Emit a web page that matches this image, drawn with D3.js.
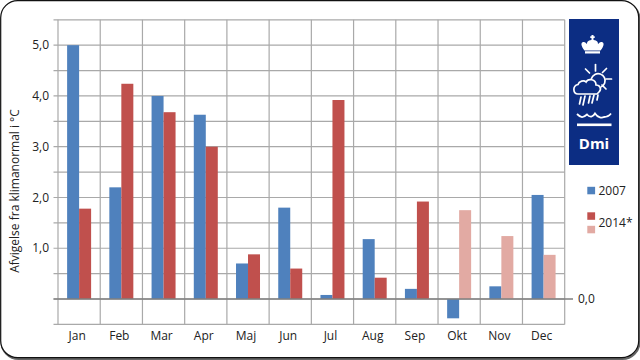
<!DOCTYPE html>
<html>
<head>
<meta charset="utf-8">
<script src="https://cdn.jsdelivr.net/npm/d3@7"></script>
<style>
  body { margin: 0; background: #fff; }
  text { font-family: "Open Sans", "Noto Sans", sans-serif; fill: #222; }
</style>
</head>
<body>
<div id="canvas"></div>
<script>
const months = ["Jan", "Feb", "Mar", "Apr", "Maj", "Jun", "Jul", "Aug", "Sep", "Okt", "Nov", "Dec"];
const values2007 = [5.0, 2.2, 4.0, 3.63, 0.7, 1.8, 0.08, 1.18, 0.2, -0.38, 0.25, 2.05];
const values2014 = [1.78, 4.24, 3.68, 3.0, 0.88, 0.6, 3.92, 0.42, 1.92, 1.75, 1.24, 0.87];
const provisional2014 = ["Okt", "Nov", "Dec"];
const gridTicks = [-0.5, 0, 0.5, 1, 1.5, 2, 2.5, 3, 3.5, 4, 4.5, 5, 5.5];
const labelTicks = [1, 2, 3, 4, 5];

const svg = d3.select("#canvas").append("svg")
    .attr("width", 640)
    .attr("height", 360)
    .style("display", "block");

const x = d3.scaleBand().domain(months).range([58, 564.7]);
const sub = d3.scaleBand().domain(["2007", "2014"]).range([0, x.bandwidth()]).paddingInner(0).paddingOuter(0.76);
const y = d3.scaleLinear().domain([-0.5, 5.5]).range([324.4, 19.8]);

const fmt = d => d.toFixed(1).replace(".", ",");

// Frame with rounded corners
svg.append("rect")
    .attr("x", 1.5).attr("y", 2).attr("width", 638).attr("height", 357)
    .attr("rx", 17)
    .attr("fill", "none").attr("stroke", "#666").attr("stroke-width", 2);
svg.append("rect")
    .attr("x", 0.7).attr("y", 0.7).attr("width", 638).attr("height", 357)
    .attr("rx", 17)
    .attr("fill", "#fff").attr("stroke", "#111").attr("stroke-width", 1.2);

// Grid
svg.append("g").selectAll("line")
    .data(gridTicks)
    .enter().append("line")
    .attr("x1", 53.5).attr("x2", 564.7)
    .attr("y1", d => y(d)).attr("y2", d => y(d))
    .attr("stroke", "#a9a9a9").attr("stroke-width", 1.2);

svg.append("g").selectAll("line")
    .data(months.concat("end"))
    .enter().append("line")
    .attr("x1", d => d === "end" ? 564.7 : x(d))
    .attr("x2", d => d === "end" ? 564.7 : x(d))
    .attr("y1", y(5.5)).attr("y2", y(-0.5))
    .attr("stroke", "#a9a9a9").attr("stroke-width", 1.2);

// Bars
svg.append("g").selectAll("rect")
    .data(months)
    .enter().append("rect")
    .attr("x", d => x(d) + sub("2007"))
    .attr("width", sub.bandwidth())
    .attr("y", (d, i) => y(Math.max(values2007[i], 0)))
    .attr("height", (d, i) => Math.abs(y(values2007[i]) - y(0)))
    .attr("fill", "#4f81bd");

svg.append("g").selectAll("rect")
    .data(months)
    .enter().append("rect")
    .attr("x", d => x(d) + sub("2014"))
    .attr("width", sub.bandwidth())
    .attr("y", (d, i) => y(values2014[i]))
    .attr("height", (d, i) => y(0) - y(values2014[i]))
    .attr("fill", d => provisional2014.includes(d) ? "#e2aaa3" : "#c0504d");

// Zero line
svg.append("line")
    .attr("x1", 53.5).attr("x2", 573)
    .attr("y1", y(0)).attr("y2", y(0))
    .attr("stroke", "#7f7f7f").attr("stroke-width", 1.6);

// Axis labels
svg.append("g").selectAll("text")
    .data(labelTicks)
    .enter().append("text")
    .attr("x", 49).attr("y", d => y(d))
    .attr("dy", "0.35em")
    .attr("text-anchor", "end")
    .style("font-size", "12px")
    .text(fmt);

svg.append("text")
    .attr("x", 578).attr("y", y(0))
    .attr("dy", "0.35em")
    .style("font-size", "12px")
    .text(fmt(0));

svg.append("g").selectAll("text")
    .data(months)
    .enter().append("text")
    .attr("x", d => x(d) + x.bandwidth() / 2 - 2)
    .attr("y", 340)
    .attr("text-anchor", "middle")
    .style("font-size", "12px")
    .text(d => d);

svg.append("text")
    .attr("transform", "translate(19,191) rotate(-90)")
    .attr("text-anchor", "middle")
    .style("font-size", "12px")
    .text("Afvigelse fra klimanormal i °C");

// Legend
const swatches = [
    { y: 186.8, color: "#4f81bd" },
    { y: 212.3, color: "#c0504d" },
    { y: 225.8, color: "#e2aaa3" }
];
svg.append("g").selectAll("rect")
    .data(swatches)
    .enter().append("rect")
    .attr("x", 587.3).attr("y", d => d.y)
    .attr("width", 7.8).attr("height", 7.5)
    .attr("fill", d => d.color);
svg.append("text").attr("x", 598.5).attr("y", 194.5).style("font-size", "12px").text("2007");
svg.append("text").attr("x", 598.5).attr("y", 226.5).style("font-size", "12px").text("2014*");

// DMI logo
const logo = svg.append("g");
logo.append("rect")
    .attr("x", 569).attr("y", 19).attr("width", 50).attr("height", 146)
    .attr("fill", "#0c2d83");

// crown
logo.append("path")
    .attr("d", "M585 53.5h15v-2.2h-15z M584.5 50.5 C581 46 580.5 43 583 42 C585 41.5 586 43 587 44 C587 41 589 40 592.5 40 C596 40 598 41 598 44 C599 43 600 41.5 602 42 C604.5 43 604 46 600.5 50.5z M591.5 40v-5h2v5z M590.3 36.3h4.4v1.6h-4.4z")
    .attr("fill", "#fff");

// sun rays, rain and waves
logo.append("g")
    .attr("stroke", "#fff").attr("stroke-width", 1.7).attr("fill", "none").attr("stroke-linecap", "round")
    .selectAll("path")
    .data([
        "M595.5 64.5v6.5", "M585.5 69l4 4", "M606.5 68.5l-4 4", "M606 79h5.5", "M602 85l4 4",
        "M581 97l-1.5 7", "M585 96l-2 9", "M590 96l-1.5 7", "M594 95l-2 8", "M598 95l-1 5"
    ])
    .enter().append("path")
    .attr("d", d => d);

// cloud and sun disc
logo.append("path")
    .attr("d", "M592 84 A7 7 0 1 1 601 87")
    .attr("fill", "none").attr("stroke", "#fff").attr("stroke-width", 1.7);
logo.append("path")
    .attr("d", "M578 94 C573 94 572 86 578 84.5 C579 81 584 80 586 82 C588 78 596 79 596 85 C600 85 602 89 599 92 L597 94 Z")
    .attr("fill", "#0c2d83").attr("stroke", "#fff").attr("stroke-width", 1.7);

logo.append("path")
    .attr("d", "M577 114 C581 118 583 118 587 114.5 C590 118 593 117 595 113.5 C598 118 602 118 604 117 C606 117 609 116 611 113.5")
    .attr("fill", "none").attr("stroke", "#fff").attr("stroke-width", 1.8);
logo.append("rect")
    .attr("x", 577).attr("y", 123.5).attr("width", 34.5).attr("height", 2.6)
    .attr("fill", "#fff");

logo.append("text")
    .attr("x", 594).attr("y", 149)
    .attr("text-anchor", "middle")
    .style("font-size", "15px")
    .style("font-weight", "bold")
    .style("fill", "#fff")
    .text("Dmi");
</script>
</body>
</html>
